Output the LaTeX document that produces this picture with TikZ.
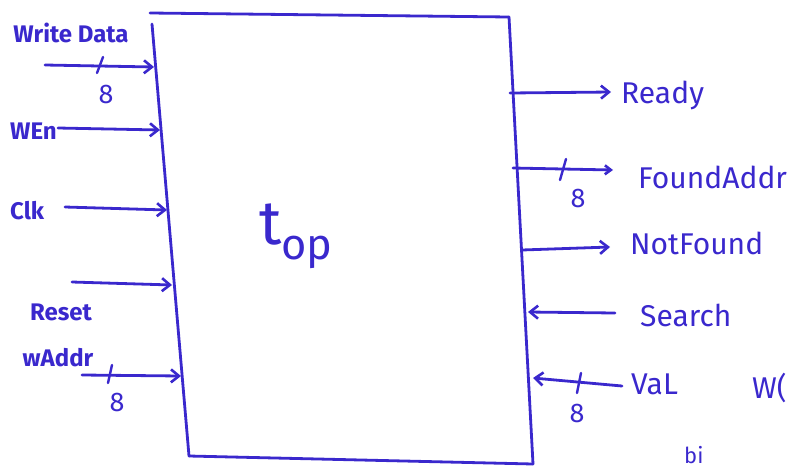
\documentclass[tikz,border=0pt]{standalone}
\usepackage{fontspec}
\setmainfont{Fira Sans}
\usetikzlibrary{arrows.meta}
\definecolor{penblue}{RGB}{58,40,205}
\tikzset{
  wire/.style={draw=penblue, line width=2.8pt, line cap=round},
  sig/.style={wire, -{Straight Barb[length=8pt,width=13pt,line width=2.6pt]}},
  smallsig/.style={wire, -{Straight Barb[length=6pt,width=9pt,line width=2.6pt]}},
  lab/.style={text=penblue, inner sep=0pt, font=\fontsize{24}{24}\fontseries{sb}\selectfont},
  rlab/.style={text=penblue, inner sep=0pt, anchor=west, font=\fontsize{30}{30}\fontseries{m}\selectfont},
  width/.style={text=penblue, inner sep=0pt, font=\fontsize{27}{27}\fontseries{m}\selectfont},
  tick/.style={wire, line width=2.4pt},
}
\begin{document}
\begin{tikzpicture}[x=1pt, y=-1pt]
\useasboundingbox (0,0) rectangle (794,469);
\begin{scope}
\clip (0,0) rectangle (794,469);

% the module body, drawn freehand-slanted
\coordinate (tl) at (150,13);
\coordinate (tr) at (509,17);
\coordinate (br) at (533,464);
\coordinate (bl) at (189,456);
\draw[wire] (tl) -- (tr);
\draw[wire] (152,24) -- (bl);
\draw[wire] (tr) -- (br);
\draw[wire] (bl) -- (br);
\node[text=penblue, font=\fontsize{62}{62}\selectfont] (top) at (296,236) {t$_{\mathrm{op}}$};

% ---- inputs on the left
\coordinate (wdS) at (45,65);   \coordinate (wdE) at (154,67);
\coordinate (weS) at (58,128);  \coordinate (weE) at (160,130);
\coordinate (ckS) at (65,207);  \coordinate (ckE) at (167,210);
\coordinate (rsS) at (72,282);  \coordinate (rsE) at (172,285);
\coordinate (waS) at (82,375);  \coordinate (waE) at (181,376);

\draw[sig] (wdS) -- (wdE);
\draw[sig] (weS) -- (weE);
\draw[sig] (ckS) -- (ckE);
\draw[sig] (rsS) -- (rsE);
\draw[sig] (waS) -- (waE);

\node[lab] (wdL) at (71,33) {Write Data};
\node[lab, anchor=west] (weL) at (10,131) {WEn};
\node[lab, anchor=west] (ckL) at (10,211) {Clk};
\node[lab] (rsL) at (61,312) {Reset};
\node[lab] (waL) at (58,358) {wAddr};

% bus widths
\draw[tick] (97,73) -- (103,57);
\node[width] (wdW) at (106,94) {8};
\draw[tick] (108,383) -- (112,365);
\node[width] (waW) at (117,402) {8};

% ---- outputs on the right
\coordinate (rdS) at (510,93);  \coordinate (rdE) at (611,92);
\coordinate (faS) at (513,168); \coordinate (faE) at (613,170);
\coordinate (nfS) at (522,250); \coordinate (nfE) at (610,247);
\draw[sig] (rdS) -- (rdE);
\draw[smallsig] (faS) -- (faE);
\draw[sig] (nfS) -- (nfE);

\node[rlab] (rdL) at (621,95) {Ready};
\node[rlab] (faL) at (638,177) {FoundAddr};
\node[rlab] (nfL) at (630,243) {NotFound};

\draw[tick] (560,180) -- (566,159);
\node[width] (faW) at (578,198) {8};

% ---- inputs on the right
\coordinate (seS) at (615,313); \coordinate (seE) at (528,312);
\coordinate (vaS) at (622,386); \coordinate (vaE) at (533,378);
\draw[sig] (seS) -- (seE);
\draw[sig] (vaS) -- (vaE);

\node[rlab] (seL) at (640,315) {Search};
\node[rlab] (vaL) at (631,384) {VaL};

\draw[tick] (577,393) -- (581,373);
\node[width] (vaW) at (577,413) {8};

% text running off the sheet edge
\node[rlab] (wc) at (752,388) {W(};
\node[rlab, font=\fontsize{22}{22}\selectfont] (bi) at (684,455) {bi};
\end{scope}
\end{tikzpicture}
\end{document}
